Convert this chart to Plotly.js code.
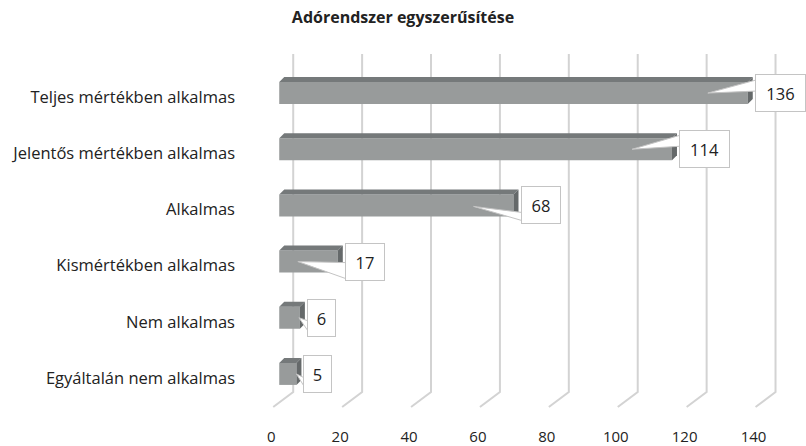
<!DOCTYPE html>
<html>
<head>
<meta charset="utf-8">
<script src="https://cdn.plot.ly/plotly-3.0.1.min.js"></script>
<style>html,body{margin:0;padding:0;background:#fff;}#chart{width:806px;height:446px;}</style>
</head>
<body>
<div id="chart"></div>
<script>
// ---- data ----
const categories = ['Teljes mértékben alkalmas', 'Jelentős mértékben alkalmas', 'Alkalmas', 'Kismértékben alkalmas', 'Nem alkalmas', 'Egyáltalán nem alkalmas'];
const values = [136, 114, 68, 17, 6, 5];
const xTicks = [0, 20, 40, 60, 80, 100, 120, 140];
const xTickLabels = ['0', '20', '40', '60', '80', '100', '120', '140'];

// ---- layout geometry / style ----
const W = 806, H = 446;
const xMin = -5, xMax = 150;
const pxPerX = 3.45;
const mL = 279 + xMin * pxPerX;           // 0 lands at 279 px
const mR = W - (mL + (xMax - xMin) * pxPerX);
const mT = 65, mB = 44;
const plotH = H - mT - mB;
const pxPerY = plotH / categories.length;
const idx = categories.map((c, i) => i);
const barW = 22 / pxPerY;
const depthX = 5 / pxPerX, depthY = 5 / pxPerY;

const cFront = '#989b9b', cTop = '#75797a', cSide = '#65696a', cGrid = '#d3d3d3', cBorder = '#c4c4c4';
const font = 'Open Sans, Noto Sans, sans-serif';

// callout styling (pixel offsets)
const tipDx = [-47, -47, -47, -47, -8, -7];
const tipDy = [0, 0, 1, 0, 0, 0];
const baseTop = [-13, -14, 7, 1, 3, 4];
const baseBot = [-2, -3, 15, 17, 13, 13];
const boxGap = 7;

const shapes = [];
// back-wall gridlines with floor diagonals
xTicks.forEach(v => {
  const gx = v + 14 / pxPerX;
  const fx = v - 6 / pxPerX;
  const yTop = (H - mB - 54) / plotH, yBot = (H - mB - 392) / plotH, yFloor = (H - mB - 407) / plotH;
  shapes.push({type: 'path', xref: 'x', yref: 'paper', layer: 'below',
    path: `M ${gx} ${yTop} L ${gx} ${yBot} L ${fx} ${yFloor}`,
    line: {color: cGrid, width: 2}});
});
// 3D faces
values.forEach((v, i) => {
  const top = i - barW / 2, bot = i + barW / 2;
  shapes.push({type: 'path', xref: 'x', yref: 'y', layer: 'above', fillcolor: cTop, line: {width: 0},
    path: `M 0 ${top} L ${v} ${top} L ${v + depthX} ${top - depthY} L ${depthX} ${top - depthY} Z`});
  shapes.push({type: 'path', xref: 'x', yref: 'y', layer: 'above', fillcolor: cSide, line: {width: 0},
    path: `M ${v} ${top} L ${v + depthX} ${top - depthY} L ${v + depthX} ${bot - depthY} L ${v} ${bot} Z`});
});
// callout wedges
values.forEach((v, i) => {
  const bx = v + (boxGap + 1) / pxPerX;
  const tx = v + (boxGap + tipDx[i]) / pxPerX;
  const ty = i + tipDy[i] / pxPerY;
  shapes.push({type: 'path', xref: 'x', yref: 'y', layer: 'above', fillcolor: '#ffffff',
    line: {color: cBorder, width: 1},
    path: `M ${bx} ${i + baseTop[i] / pxPerY} L ${tx} ${ty} L ${bx} ${i + baseBot[i] / pxPerY} Z`});
});

const annotations = values.map((v, i) => {
  const digits = String(v).length;
  return {x: v, y: i, xref: 'x', yref: 'y', xanchor: 'left', yanchor: 'middle', xshift: boxGap,
    showarrow: false, text: String(v), font: {family: font, size: 16.5, color: '#222'},
    bgcolor: '#ffffff', bordercolor: cBorder, borderwidth: 1, borderpad: 0,
    width: 16 + 11 * digits, height: 36, align: 'center', valign: 'middle'};
});

const trace = {type: 'bar', orientation: 'h', x: values, y: idx, base: 0, width: barW,
  marker: {color: cFront, line: {width: 0}}, hoverinfo: 'skip'};

const layout = {
  width: W, height: H,
  margin: {l: mL, r: mR, t: mT, b: mB, pad: 0},
  paper_bgcolor: '#fff', plot_bgcolor: 'rgba(0,0,0,0)',
  showlegend: false,
  title: {text: '<b>Adórendszer egyszerűsítése</b>', x: 403 / W, xanchor: 'center', xref: 'container',
    y: 1 - 17 / H, yref: 'container', yanchor: 'middle',
    font: {family: font, size: 16, color: '#222'}},
  xaxis: {range: [xMin, xMax], tickvals: xTicks, ticktext: xTickLabels, showgrid: false, zeroline: false,
    showline: false, ticks: '', ticklabelshift: -8, ticklabelstandoff: 24,
    tickfont: {family: font, size: 15, color: '#222'}, fixedrange: true},
  yaxis: {range: [categories.length - 0.5, -0.5], tickvals: idx, ticktext: categories, showgrid: false,
    zeroline: false, showline: false, ticks: '', ticklabelstandoff: 26, ticklabelshift: -4,
    tickfont: {family: font, size: 16.5, color: '#222'}, fixedrange: true},
  shapes: shapes,
  annotations: annotations
};

Plotly.newPlot('chart', [trace], layout, {staticPlot: true, displayModeBar: false});
</script>
</body>
</html>
